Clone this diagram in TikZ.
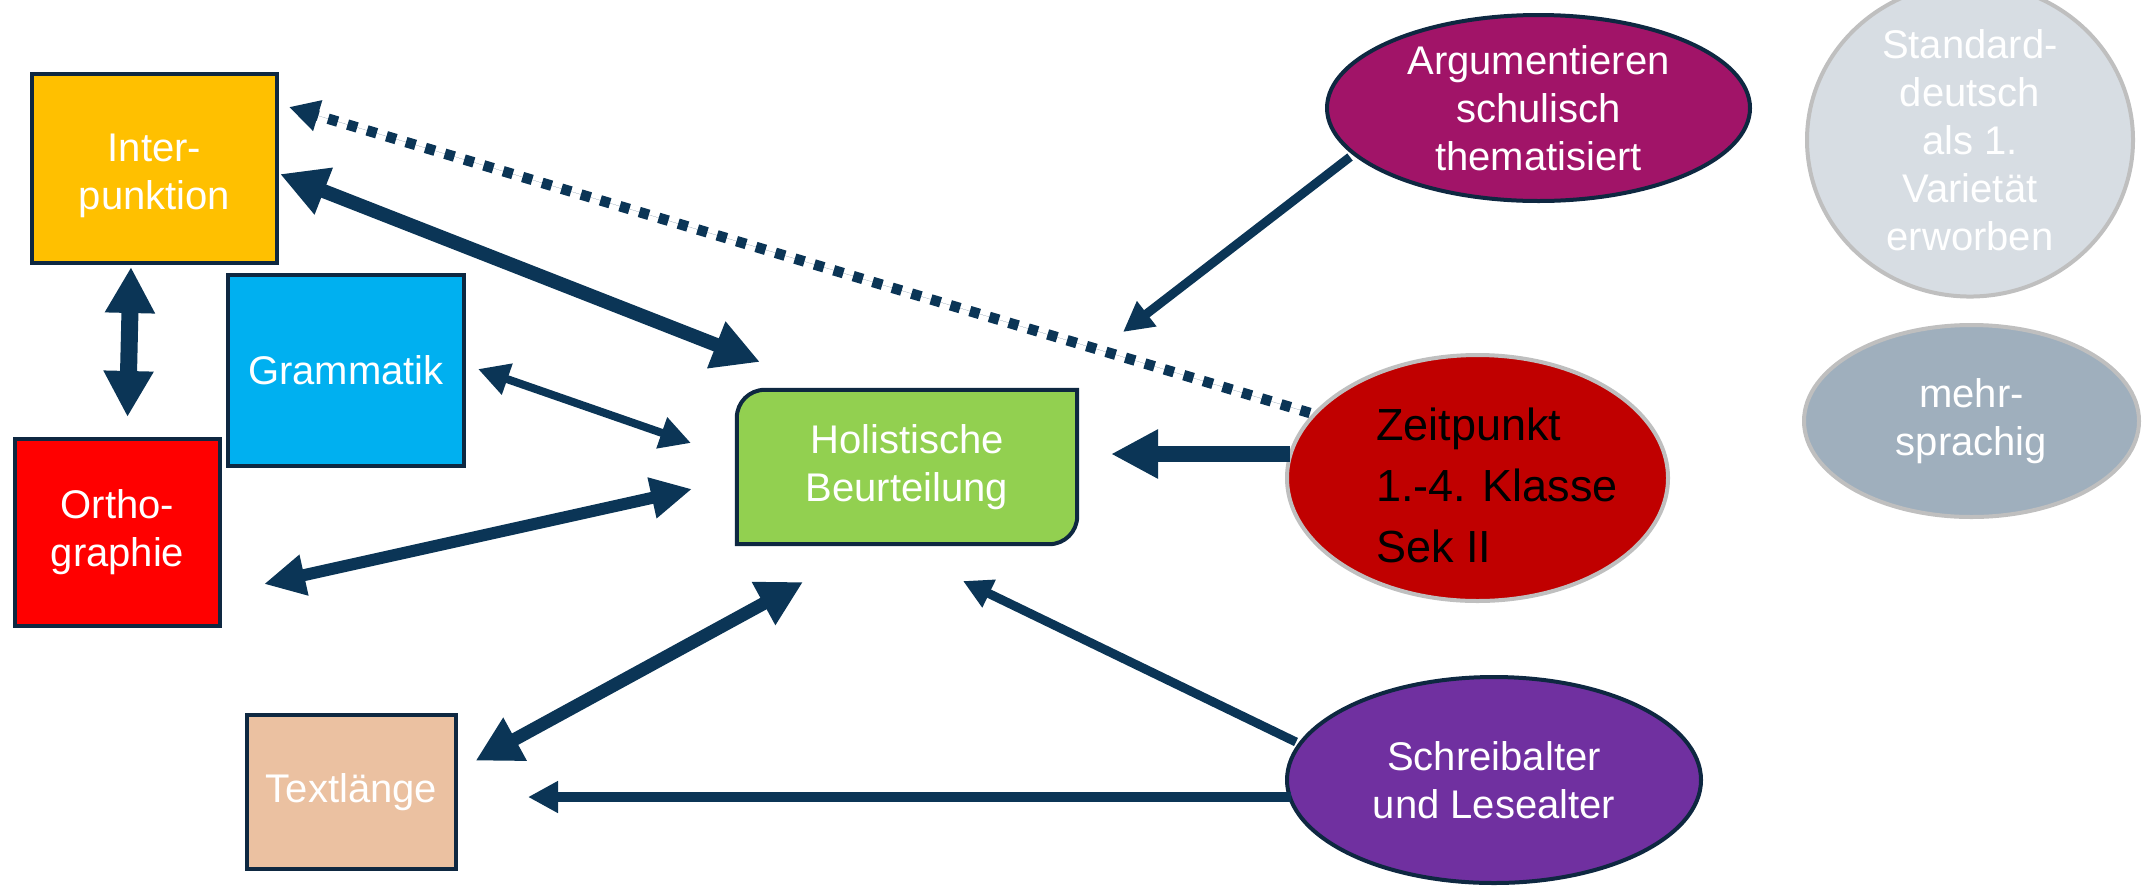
\documentclass[tikz,border=0pt]{standalone}
\usepackage{fontspec}
\setmainfont{Liberation Sans}
\usetikzlibrary{arrows.meta,calc,shapes.geometric,backgrounds}
\definecolor{navy}{HTML}{0B3556}
\definecolor{bord}{HTML}{0E2841}
\definecolor{greyb}{HTML}{BFBFBF}
\definecolor{cInter}{HTML}{FFC000}
\definecolor{cGram}{HTML}{00B0F0}
\definecolor{cOrtho}{HTML}{FF0000}
\definecolor{cText}{HTML}{EBC1A1}
\definecolor{cHol}{HTML}{92D050}
\definecolor{cArg}{HTML}{A11468}
\definecolor{cStd}{HTML}{D7DDE3}
\definecolor{cMehr}{HTML}{9FAFBD}
\definecolor{cZeit}{HTML}{C00000}
\definecolor{cSchr}{HTML}{7030A0}
\begin{document}
\begin{tikzpicture}[x=1pt,y=-1pt,
  lbl/.style={text=white, align=center, inner sep=0pt, font=\fontsize{40}{48}\selectfont},
  box/.style={lbl, draw=bord, line width=4pt},
  oval/.style={lbl, ellipse, line width=4pt},
  conn/.style={draw=navy, fill=navy, line width=#1},
  hd/.style 2 args={>={Triangle[length=#1pt,width=#2pt]}}]

\useasboundingbox (0,0) rectangle (2143,887);

% boxes
\node[box, fill=cInter, minimum width=245pt, minimum height=189pt, text height=90pt] (inter) at (154.5,168.5) {Inter-\\punktion};
\node[box, fill=cGram, minimum width=236pt, minimum height=191pt] (gram) at (346,370.5) {Grammatik};
\node[box, fill=cOrtho, minimum width=205pt, minimum height=187pt] (ortho) at (117.5,532.5) {Ortho-\\graphie};
\node[box, fill=cText, minimum width=209pt, minimum height=154pt] (textl) at (351.5,792) {Textlänge};
\node[lbl, minimum width=340pt, minimum height=154pt] (hol) at (907,467) {Holistische\\Beurteilung};
\begin{scope}[on background layer]
\draw[draw=bord, line width=4pt, fill=cHol]
  (hol.south west) -- ($(hol.north west)+(0,28)$)
  .. controls ($(hol.north west)+(0,12.5)$) and ($(hol.north west)+(12.5,0)$) .. ($(hol.north west)+(28,0)$)
  -- (hol.north east) -- ($(hol.south east)+(0,-28)$)
  .. controls ($(hol.south east)+(0,-12.5)$) and ($(hol.south east)+(-12.5,0)$) .. ($(hol.south east)+(-28,0)$)
  -- cycle;
\end{scope}

% ellipses
\node[oval, draw=bord, fill=cArg, minimum width=423pt, minimum height=186pt] (arg) at (1538.5,108) {Argumentieren\\schulisch\\thematisiert};
\node[oval, draw=greyb, fill=cStd, minimum width=326pt, minimum height=270pt] (std) at (1970,140) {Standard-\\deutsch\\als 1.\\Varietät\\erworben};
\node[oval, draw=greyb, fill=cMehr, minimum width=335pt, minimum height=192pt] (mehr) at (1971.5,421) {mehr-\\sprachig};
\node[oval, draw=greyb, fill=cZeit, minimum width=381pt, minimum height=246pt] (zeit) at (1477.5,478) {};
\node[align=left, inner sep=0pt, font=\fontsize{45}{61}\selectfont, text=black] (zeittxt) at (1497,485) {Zeitpunkt\\1.-4. Klasse\\Sek II};
\node[oval, draw=bord, fill=cSchr, minimum width=414pt, minimum height=206pt] (schr) at (1494,780) {Schreibalter\\und Lesealter};

% connector ends
\coordinate (dotA) at (1310,413);
\coordinate (dotB) at (289,107);
\coordinate (ihA) at (280,174);
\coordinate (ihB) at (760,362);
\coordinate (ioA) at (131,267);
\coordinate (ioB) at (127.5,417);
\coordinate (ghA) at (478,369);
\coordinate (ghB) at (691,443);
\coordinate (ohA) at (264,584);
\coordinate (ohB) at (692,489);
\coordinate (thA) at (475.6,760.7);
\coordinate (thB) at (803,582);
\coordinate (zhA) at (1290,454);
\coordinate (zhB) at (1111,454);
\coordinate (ahA) at (1350,157);
\coordinate (ahB) at (1123,332);
\coordinate (shA) at (1296,742);
\coordinate (shB) at (963,581);
\coordinate (stA) at (1291,797);
\coordinate (stB) at (528,797);

% connectors
\draw[conn=10.5pt, hd={30}{30}, dash pattern=on 10pt off 10.3pt, ->] (dotA) -- (dotB);
\draw[conn=14pt, hd={47}{47}, <->] (ihA) -- (ihB);
\draw[conn=17pt, hd={46}{47}, <->] (ioA) -- (ioB);
\draw[conn=8pt, hd={31}{31}, <->] (ghA) -- (ghB);
\draw[conn=12pt, hd={41}{39}, <->] (ohA) -- (ohB);
\draw[conn=13pt, hd={45}{46}, <->] (thA) -- (thB);
\draw[conn=16pt, hd={47}{46}, ->] (zhA) -- (zhB);
\draw[conn=9pt, hd={30}{30}, ->] (ahA) -- (ahB);
\draw[conn=9pt, hd={29}{29}, ->] (shA) -- (shB);
\draw[conn=10pt, hd={30}{30}, ->] (stA) -- (stB);
\end{tikzpicture}
\end{document}
